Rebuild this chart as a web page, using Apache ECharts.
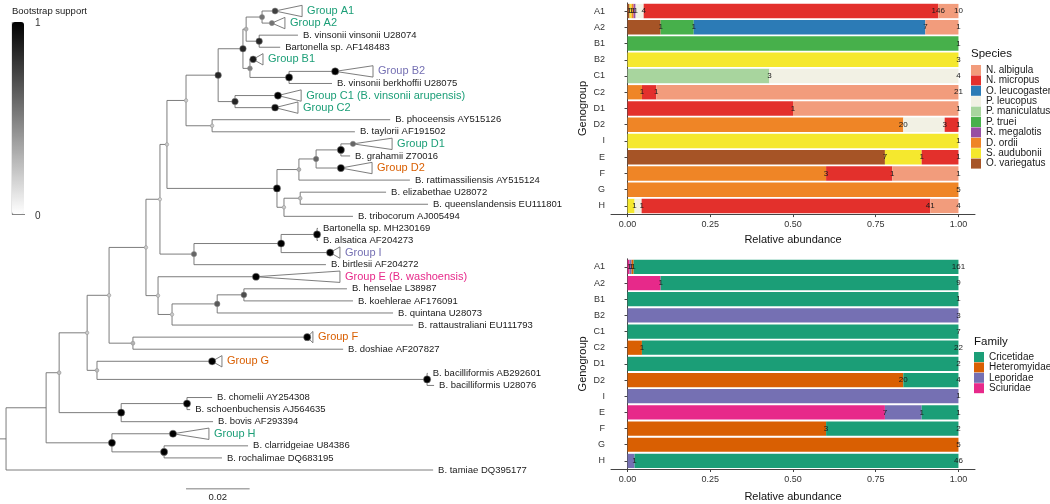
<!DOCTYPE html>
<html><head><meta charset="utf-8">
<script src="https://cdn.jsdelivr.net/npm/echarts@6/dist/echarts.min.js"></script>
<style>html,body{margin:0;padding:0;background:#fff}#c{width:1050px;height:504px}</style>
</head><body><div id="c"></div>
<script>
// ---------------- data: bar charts ----------------
const genogroups = ['A1','A2','B1','B2','C1','C2','D1','D2','I','E','F','G','H'];
const speciesNames = ['N. albigula','N. micropus','O. leucogaster','P. leucopus','P. maniculatus','P. truei','R. megalotis','D. ordii','S. audubonii','O. variegatus'];
// counts per species (legend order) for each genogroup
const speciesCounts = [
  [10,1,0,0,0,21,1,0,0,0,1,0,4],     // N. albigula
  [146,0,0,0,0,1,1,1,0,1,1,0,41],    // N. micropus
  [0,7,0,0,0,0,0,0,0,0,0,0,0],       // O. leucogaster
  [4,0,0,0,4,0,0,3,0,0,0,0,1],       // P. leucopus
  [0,0,0,0,3,0,0,0,0,0,0,0,0],       // P. maniculatus
  [0,1,1,0,0,0,0,0,0,0,0,0,0],       // P. truei
  [1,0,0,0,0,0,0,0,0,0,0,0,0],       // R. megalotis
  [1,0,0,0,0,1,0,20,0,0,3,5,0],      // D. ordii
  [1,0,0,3,0,0,0,0,1,1,0,0,1],       // S. audubonii
  [1,1,0,0,0,0,0,0,0,7,0,0,0]        // O. variegatus
];
const familyNames = ['Cricetidae','Heteromyidae','Leporidae','Sciuridae'];
const familyCounts = [
  [161,9,1,0,7,22,2,4,0,1,2,0,46],   // Cricetidae
  [1,0,0,0,0,1,0,20,0,0,3,5,0],      // Heteromyidae
  [1,0,0,3,0,0,0,0,1,1,0,0,1],       // Leporidae
  [1,1,0,0,0,0,0,0,0,7,0,0,0]        // Sciuridae
];
const xTicks = [0, 0.25, 0.5, 0.75, 1];

// ---------------- data: tree ----------------
const tipLabels = ['Group A1','Group A2','B. vinsonii vinsonii U28074','Bartonella sp. AF148483','Group B1','Group B2','B. vinsonii berkhoffii U28075','Group C1 (B. vinsonii arupensis)','Group C2','B. phoceensis AY515126','B. taylorii AF191502','Group D1','B. grahamii Z70016','Group D2','B. rattimassiliensis AY515124','B. elizabethae U28072','B. queenslandensis EU111801','B. tribocorum AJ005494','Bartonella sp. MH230169','B. alsatica AF204273','Group I','B. birtlesii AF204272','Group E (B. washoensis)','B. henselae L38987','B. koehlerae AF176091','B. quintana U28073','B. rattaustraliani EU111793','Group F','B. doshiae AF207827','Group G','B. bacilliformis AB292601','B. bacilliformis U28076','B. chomelii AY254308','B. schoenbuchensis AJ564635','B. bovis AF293394','Group H','B. clarridgeiae U84386','B. rochalimae DQ683195','B. tamiae DQ395177'];
const tipGenogroup = ['A1','A2',null,null,'B1','B2',null,'C1','C2',null,null,'D1',null,'D2',null,null,null,null,null,null,'I',null,'E',null,null,null,null,'F',null,'G',null,null,null,null,null,'H',null,null,null];
const tipDepth = [0.0846,0.0836,0.0918,0.0862,0.0777,0.1035,0.1025,0.0855,0.0846,0.1208,0.1097,0.1091,0.1082,0.1053,0.1270,0.1195,0.1327,0.1091,0.0981,0.0981,0.1019,0.1006,0.0786,0.1072,0.1091,0.1217,0.1280,0.0947,0.1060,0.0648,0.1326,0.1346,0.0648,0.0579,0.0651,0.0525,0.0761,0.0679,0.1343];
const tipCladeEnd = [0.0931,0.0877,null,null,0.0808,0.1154,null,0.0928,0.0918,null,null,0.1214,null,0.1151,null,null,null,null,null,null,0.1050,null,0.1050,null,null,null,null,0.0965,null,0.0679,null,null,null,null,null,0.0638,null,null,null];
const tipSupport = [0.75,0.55,null,null,0.9,1,null,1,0.95,null,null,0.6,null,1,null,null,null,null,null,null,1,null,1,null,null,null,null,1,null,1,null,null,null,null,null,1,null,null,null];

const nodeIds = ['n262','n259','n246','n289','n250','n243','n235','n218','n212','n186','n341','n316','n299','n300','n284','n277','n167','n317','n281','n194','n160','n244','n217','n172','n158','n146','n133','n109','n427','n97','n87','n187','n121','n59','n164','n112','n46','root'];
const nodeDepth = [0.0805,0.0796,0.0755,0.0890,0.0767,0.0745,0.0720,0.0667,0.0648,0.0566,0.1053,0.0975,0.0921,0.0925,0.0874,0.0852,0.0506,0.0978,0.0865,0.0591,0.0484,0.0748,0.0664,0.0522,0.0478,0.0440,0.0399,0.0324,0.1324,0.0286,0.0255,0.0569,0.0362,0.0167,0.0497,0.0333,0.0126,0];
const nodeSupport = [0.55,0.85,0.3,1,0.5,0.85,0.85,0.85,0.2,0.2,1,0.6,0.3,0.25,0.2,1,0.2,1,1,0.6,0.15,0.7,0.65,0.2,0.2,0.2,0.3,0.2,1,0.25,0.2,1,1,0.25,1,1,null,null];
const nodeChildren = [[0,1],[2,3],['n262','n259'],[5,6],[4,'n289'],['n246','n250'],[7,8],['n243','n235'],[9,10],['n218','n212'],[11,12],['n341',13],['n316',14],[15,16],['n300',17],['n299','n284'],['n186','n277'],[18,19],['n317',20],['n281',21],['n167','n194'],[23,24],['n244',25],['n217',26],[22,'n172'],['n160','n158'],[27,28],['n146','n133'],[30,31],[29,'n427'],['n109','n97'],[32,33],['n187',34],['n87','n121'],[36,37],[35,'n164'],['n59','n112'],['n46',38]];
const rootEdge = 0.0019;
const scaleBarLength = 0.02;
const scaleBarStart = 0.0566;

// ---------------- styles ----------------
const FONT = '"Liberation Sans", Arial, Helvetica, sans-serif';
const speciesColors = ['#F29C7C','#E3302C','#2C7BB6','#F2F1E4','#A8D59E','#47B04B','#984EA3','#EF8526','#F5E82E','#A65426'];
const familyColors = ['#1B9E77','#D95F02','#7570B3','#E7298A'];
const branchColor = '#6e6e6e';

// ---------------- derived ----------------
const spTotals = genogroups.map((g,gi)=>speciesCounts.reduce((s,row)=>s+row[gi],0));
const famTotals = genogroups.map((g,gi)=>familyCounts.reduce((s,row)=>s+row[gi],0));
function groupColor(g){
  if(!g) return '#1a1a1a';
  const gi = genogroups.indexOf(g);
  let best = 0;
  familyCounts.forEach((row,fi)=>{ if(row[gi] > familyCounts[best][gi]) best = fi; });
  return familyColors[best];
}

const nodeY = {};
function refY(r){ return typeof r === 'number' ? r + 1 : nodeY[r]; }
function refDepth(r){ return typeof r === 'number' ? tipDepth[r] : nodeDepth[nodeIds.indexOf(r)]; }
function computeY(id){
  const i = nodeIds.indexOf(id);
  const ys = nodeChildren[i].map(c => typeof c === 'number' ? c + 1 : computeY(c));
  nodeY[id] = ys.reduce((a,b)=>a+b,0)/ys.length;
  return nodeY[id];
}
computeY('root');

const edgeData = [[-rootEdge, 0, nodeY.root]];
const vertData = [];
const dotData = [];
nodeIds.forEach((id,i)=>{
  const ys = nodeChildren[i].map(refY);
  nodeChildren[i].forEach(c => edgeData.push([nodeDepth[i], refDepth(c), refY(c)]));
  vertData.push([nodeDepth[i], Math.min(...ys), Math.max(...ys)]);
  if(nodeSupport[i] != null) dotData.push([nodeDepth[i], nodeY[id], nodeSupport[i]]);
});
const triData = [];
const labelData = [];
tipLabels.forEach((lab,i)=>{
  if(tipSupport[i] != null) dotData.push([tipDepth[i], i+1, tipSupport[i]]);
  if(tipCladeEnd[i] != null) triData.push([tipDepth[i], tipCladeEnd[i], i+1]);
  labelData.push([tipCladeEnd[i] != null ? tipCladeEnd[i] : tipDepth[i], i+1, i]);
});

// ---------------- option ----------------
const axisLineStyle = {color:'#444', width:1};
function barXAxis(idx, gap){
  return {type:'value', gridIndex:idx, min:-0.05, max:1.05,
    name:'Relative abundance', nameLocation:'middle', nameGap:gap,
    nameTextStyle:{fontSize:11, color:'#111', fontFamily:FONT},
    axisLine:{show:true, lineStyle:axisLineStyle},
    axisTick:{show:true, length:3, lineStyle:axisLineStyle, customValues:xTicks},
    axisLabel:{fontSize:9, color:'#333', fontFamily:FONT, margin:6, customValues:xTicks, formatter:v=>v.toFixed(2)},
    splitLine:{show:false}};
}
function barYAxis(idx){
  return {type:'category', gridIndex:idx, data:genogroups, inverse:true,
    name:'Genogroup', nameLocation:'middle', nameGap:23,
    nameTextStyle:{fontSize:11, color:'#111', fontFamily:FONT},
    axisLine:{show:true, lineStyle:axisLineStyle},
    axisTick:{show:true, length:3, alignWithLabel:true, lineStyle:axisLineStyle},
    axisLabel:{fontSize:9, color:'#333', fontFamily:FONT, margin:6}};
}
const barLabel = {show:true, position:['100%','50%'], align:'center', verticalAlign:'middle',
  fontSize:8, color:'#1a1a1a', fontFamily:FONT, formatter:p=>p.data.count};

const series = [];
for(let si = speciesNames.length-1; si >= 0; si--){
  series.push({type:'bar', name:speciesNames[si], stack:'sp', xAxisIndex:0, yAxisIndex:0,
    barCategoryGap:'12%', itemStyle:{color:speciesColors[si]}, label:barLabel,
    emphasis:{disabled:true},
    data:genogroups.map((g,gi)=> speciesCounts[si][gi] ? {value:speciesCounts[si][gi]/spTotals[gi], count:speciesCounts[si][gi]} : '-')});
}
for(let fi = familyNames.length-1; fi >= 0; fi--){
  series.push({type:'bar', name:familyNames[fi], stack:'fam', xAxisIndex:1, yAxisIndex:1,
    barCategoryGap:'12%', itemStyle:{color:familyColors[fi]}, label:barLabel,
    emphasis:{disabled:true},
    data:genogroups.map((g,gi)=> familyCounts[fi][gi] ? {value:familyCounts[fi][gi]/famTotals[gi], count:familyCounts[fi][gi]} : '-')});
}
// tree
series.push({type:'custom', xAxisIndex:2, yAxisIndex:2, silent:true, clip:false, data:edgeData,
  renderItem:(p,api)=>{
    const a = api.coord([api.value(0), api.value(2)]);
    const b = api.coord([api.value(1), api.value(2)]);
    return {type:'line', shape:{x1:a[0],y1:a[1],x2:b[0],y2:b[1]}, style:{stroke:branchColor, lineWidth:0.9}};
  }});
series.push({type:'custom', xAxisIndex:2, yAxisIndex:2, silent:true, clip:false, data:vertData,
  renderItem:(p,api)=>{
    const a = api.coord([api.value(0), api.value(1)]);
    const b = api.coord([api.value(0), api.value(2)]);
    return {type:'line', shape:{x1:a[0],y1:a[1],x2:b[0],y2:b[1]}, style:{stroke:branchColor, lineWidth:0.9}};
  }});
series.push({type:'custom', xAxisIndex:2, yAxisIndex:2, silent:true, clip:false, data:triData,
  renderItem:(p,api)=>{
    const a = api.coord([api.value(0), api.value(2)]);
    const b = api.coord([api.value(1), api.value(2)-0.47]);
    const c = api.coord([api.value(1), api.value(2)+0.47]);
    return {type:'polygon', shape:{points:[a,b,c]}, style:{stroke:branchColor, fill:'#fff', lineWidth:0.9}};
  }});
series.push({type:'custom', xAxisIndex:2, yAxisIndex:2, silent:true, clip:false, data:labelData,
  renderItem:(p,api)=>{
    const a = api.coord([api.value(0), api.value(1)]);
    const i = api.value(2);
    const g = tipGenogroup[i];
    return {type:'text', x:a[0]+5, y:a[1], style:{text:tipLabels[i], fill:groupColor(g),
      fontSize: g ? 11 : 9.5, fontFamily:FONT, align:'left', verticalAlign:'middle'}};
  }});
series.push({type:'custom', xAxisIndex:2, yAxisIndex:2, silent:true, clip:false,
  data:[[scaleBarStart, scaleBarStart+scaleBarLength, 40.56]],
  renderItem:(p,api)=>{
    const a = api.coord([api.value(0), api.value(2)]);
    const b = api.coord([api.value(1), api.value(2)]);
    return {type:'group', children:[
      {type:'line', shape:{x1:a[0],y1:a[1],x2:b[0],y2:b[1]}, style:{stroke:branchColor, lineWidth:0.9}},
      {type:'text', x:(a[0]+b[0])/2, y:a[1]+9, style:{text:String(scaleBarLength), fill:'#1a1a1a', fontSize:9.5, fontFamily:FONT, align:'center', verticalAlign:'middle'}}
    ]};
  }});
const dotSeriesIndex = series.length;
series.push({type:'scatter', xAxisIndex:2, yAxisIndex:2, silent:true, clip:false, z:4, data:dotData,
  symbolSize:v=>2.6 + 4.6*v[2], itemStyle:{borderColor:'#8a8a8a', borderWidth:0.5, opacity:1}});

const option = {
  animation:false,
  backgroundColor:'#fff',
  textStyle:{fontFamily:FONT},
  grid:[
    {left:611, width:364, top:2.9, height:211.2},
    {left:611, width:364, top:258.8, height:210.2},
    {left:0, width:572.4, top:11, height:459}
  ],
  xAxis:[barXAxis(0, 20.5), barXAxis(1, 22.5),
    {type:'value', gridIndex:2, min:-rootEdge, max:-rootEdge+0.18, show:false}],
  yAxis:[barYAxis(0), barYAxis(1),
    {type:'value', gridIndex:2, min:1, max:39, inverse:true, show:false}],
  legend:[
    {data:speciesNames, orient:'vertical', left:971, top:65, itemWidth:10, itemHeight:10, itemGap:0.4,
      icon:'rect', selectedMode:false, padding:0, textStyle:{fontSize:10, color:'#1a1a1a', fontFamily:FONT}},
    {data:familyNames, orient:'vertical', left:974, top:352, itemWidth:10, itemHeight:10, itemGap:0.4,
      icon:'rect', selectedMode:false, padding:0, textStyle:{fontSize:10, color:'#1a1a1a', fontFamily:FONT}}
  ],
  visualMap:[{type:'continuous', min:0, max:1, dimension:2, seriesIndex:dotSeriesIndex,
    inRange:{color:['#ffffff','#000000']}, left:12, top:22, itemWidth:12, itemHeight:192,
    calculable:false, padding:0, orient:'vertical', show:true}],
  graphic:[
    {type:'text', left:12, top:6, style:{text:'Bootstrap support', fontSize:9.5, fill:'#1a1a1a', fontFamily:FONT}},
    {type:'text', x:35, y:23.5, style:{text:'1', fontSize:10, fill:'#333', fontFamily:FONT, verticalAlign:'middle'}},
    {type:'text', x:35, y:216.5, style:{text:'0', fontSize:10, fill:'#333', fontFamily:FONT, verticalAlign:'middle'}},
    {type:'line', shape:{x1:12.3, y1:22, x2:12.3, y2:214.5}, style:{stroke:'#666', lineWidth:0.8}},
    {type:'line', shape:{x1:12, y1:214.5, x2:25, y2:214.5}, style:{stroke:'#666', lineWidth:0.8}},
    {type:'text', x:971, y:54, style:{text:'Species', fontSize:11.5, fill:'#111', fontFamily:FONT, verticalAlign:'middle'}},
    {type:'text', x:974, y:342, style:{text:'Family', fontSize:11.5, fill:'#111', fontFamily:FONT, verticalAlign:'middle'}}
  ],
  series
};
const chart = echarts.init(document.getElementById('c'), null, {renderer:'canvas'});
chart.setOption(option);
</script></body></html>
